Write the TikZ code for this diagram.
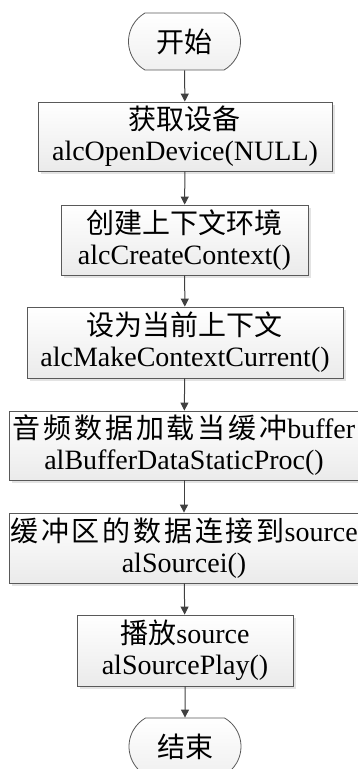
\documentclass[tikz,border=0pt]{standalone}
\usepackage{fontspec}
\setmainfont{Liberation Serif}
\newfontfamily\cjk{Noto Sans CJK SC}
\newfontfamily\cjkkuan[LetterSpace=10]{Noto Sans CJK SC}
\usepackage{tikz}
\usetikzlibrary{arrows.meta, shapes.misc, shadows}

\begin{document}
\begin{tikzpicture}[
  x=1pt, y=-1pt,
  font=\fontsize{28}{31}\selectfont,
  zhongduan/.style={
    rounded rectangle, rounded rectangle arc length=120,
    draw=black!65, line width=0.8pt,
    minimum width=112pt, minimum height=57pt, inner sep=0pt,
    top color=white, bottom color=black!6
  },
  buzhou/.style={
    draw=black!65, line width=0.8pt, align=center,
    minimum height=70pt, inner sep=0pt,
    top color=white, bottom color=black!8,
    drop shadow={shadow xshift=2.5pt, shadow yshift=-2.5pt, fill=black!22}
  },
  jiantou/.style={
    -{Triangle[length=8pt, width=8pt]},
    line width=1pt, draw=black!75
  }
]
  \useasboundingbox (0,0) rectangle (357,769);

  % Start / end
  \node[zhongduan] (kaishi) at (184.5,41.5) {\cjk 开始};
  \node[zhongduan] (jieshu) at (185,746.5) {\cjk 结束};

  % Steps
  \node[buzhou, minimum width=294pt, minimum height=69pt] (s1) at (185,136.5)
    {{\cjk 获取设备}\\alcOpenDevice(NULL)};
  \node[buzhou, minimum width=247pt] (s2) at (184.5,240)
    {{\cjk 创建上下文环境}\\alcCreateContext()};
  \node[buzhou, minimum width=316pt, minimum height=71pt] (s3) at (185,342.5)
    {{\cjk 设为当前上下文}\\alcMakeContextCurrent()};
  \node[buzhou, minimum width=350pt, minimum height=69pt] (s4) at (184,445.5)
    {{\cjkkuan 音频数据加载当缓冲}buffer\\alBufferDataStaticProc()};
  \node[buzhou, minimum width=350pt] (s5) at (184,548)
    {{\cjkkuan 缓冲区的数据连接到}source\\alSourcei()};
  \node[buzhou, minimum width=216pt, minimum height=71pt] (s6) at (185,650.5)
    {{\cjk 播放}source\\alSourcePlay()};

  \draw[jiantou] (kaishi) -- (s1);
  \draw[jiantou] (s1) -- (s2);
  \draw[jiantou] (s2) -- (s3);
  \draw[jiantou] (s3) -- (s4);
  \draw[jiantou] (s4) -- (s5);
  \draw[jiantou] (s5) -- (s6);
  \draw[jiantou] (s6) -- (jieshu);

\end{tikzpicture}
\end{document}
